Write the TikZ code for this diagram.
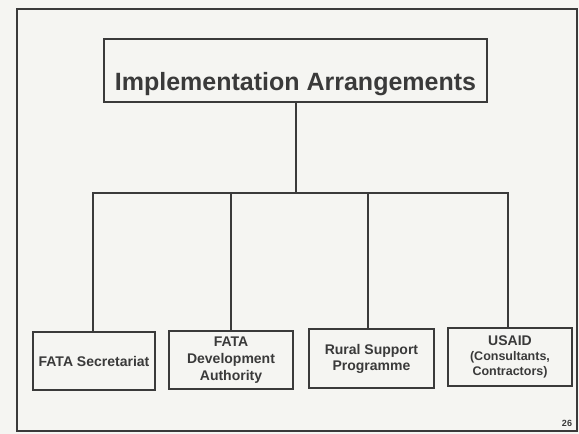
\documentclass[tikz,border=0pt]{standalone}
\usepackage{fontspec}
\setmainfont{Liberation Sans}
\definecolor{paper}{HTML}{F5F5F2}
\definecolor{ink}{HTML}{3A3A3A}
\begin{document}
\begin{tikzpicture}[x=1pt,y=-1pt,
  lbox/.style={draw=ink, line width=1.2pt, fill=paper, inner sep=0pt, align=center, text=ink,
    font=\bfseries\fontsize{14}{17}\selectfont},
  link/.style={draw=ink, line width=1.2pt}]
\useasboundingbox (0,0) rectangle (579,434);
\fill[paper] (0,0) rectangle (579,434);
\draw[ink, line width=2.6pt] (17,9) rectangle (577,431);
% title
\node[draw=ink, line width=1.2pt, minimum width=383pt, minimum height=63pt, inner sep=0pt] (title) at (295.5,70.5) {};
\node[anchor=base, text=ink, font=\bfseries\fontsize{25}{30}\selectfont, inner sep=0pt] (titletext) at (295.5,90) {Implementation Arrangements};
% boxes
\node[lbox, minimum width=122pt, minimum height=58pt] (b1) at (94,361) {FATA Secretariat};
\node[lbox, minimum width=124pt, minimum height=58pt] (b2) at (231,360) {FATA\\Development\\Authority};
\node[lbox, minimum width=125pt, minimum height=59pt, font=\bfseries\fontsize{14}{16}\selectfont] (b3) at (371.5,358.5) {Rural Support\\Programme};
\node[lbox, minimum width=124pt, minimum height=58pt, font=\bfseries\fontsize{12.5}{15}\selectfont] (b4) at (510,357) {{\fontsize{14}{15}\selectfont USAID}\\(Consultants,\\Contractors)};
% connectors
\coordinate (bus) at (296,193);
\draw[link] (title.south -| bus) -- (bus);
\draw[link] (bus) -| ([xshift=-1pt]b1.north);
\draw[link] (bus) -| (b2.north);
\draw[link] (bus) -| ([xshift=-3.5pt]b3.north);
\draw[link] (bus) -| ([xshift=-2pt]b4.north);
% page number
\node[text=ink, font=\bfseries\fontsize{9}{10}\selectfont, inner sep=0pt] (pg) at (567,423) {26};
\end{tikzpicture}
\end{document}
